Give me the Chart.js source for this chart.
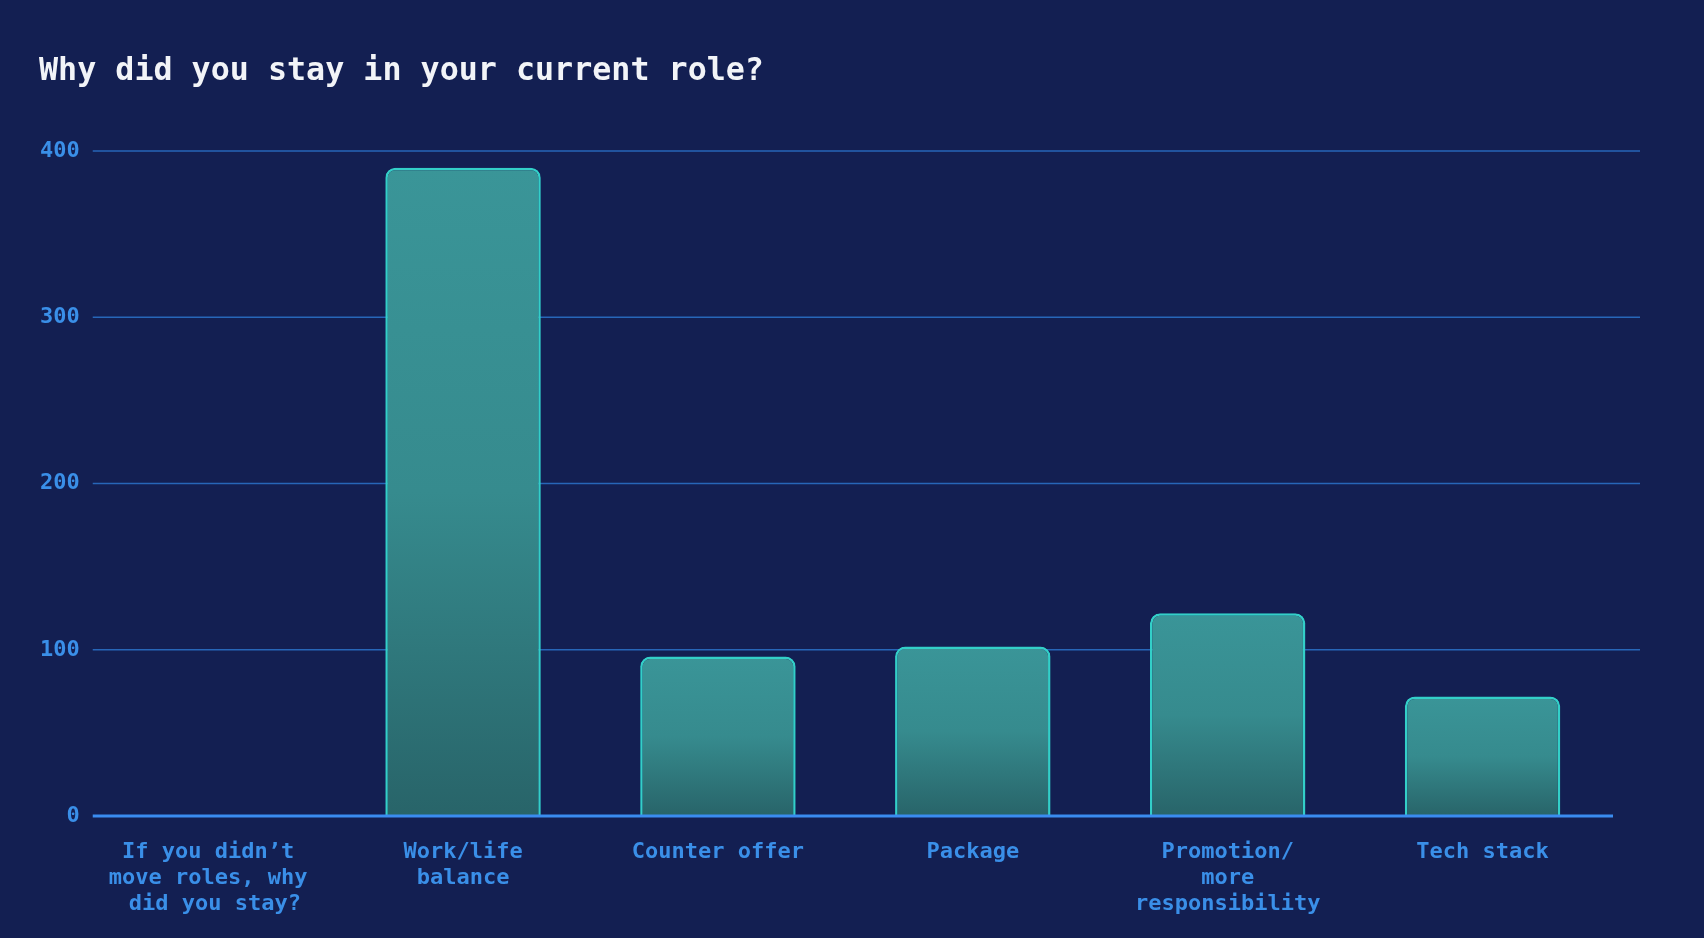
<!DOCTYPE html>
<html lang="en">
<head>
    <meta charset="UTF-8">
    <title>Why did you stay in your current role?</title>
    <script src="https://cdn.jsdelivr.net/npm/chart.js"></script>
    <style>
        html, body {
            margin: 0;
            padding: 0;
            background: #131f52;
        }
        #wrap {
            width: 1704px;
            height: 938px;
        }
    </style>
</head>
<body>
    <div id="wrap">
        <canvas id="stayChart"></canvas>
    </div>

    <script>
        // data
        const categories = [
            ['If you didn\u2019t', 'move roles, why', ' did you stay?'],
            ['Work/life', 'balance'],
            'Counter offer',
            'Package',
            ['Promotion/', 'more', 'responsibility'],
            'Tech stack'
        ];
        const responses = [0, 390, 96, 102, 122, 72];
        const yTicks = [0, 100, 200, 300, 400];

        const monoFont = "'DejaVu Sans Mono', 'Liberation Mono', monospace";
        const labelBlue = '#3a8fe8';

        // grid lines run a little wider than the bars, axis line drawn on top
        const gridPlugin = {
            id: 'stayGrid',
            beforeDatasetsDraw(chart) {
                const { ctx, chartArea, scales } = chart;
                ctx.save();
                ctx.strokeStyle = '#2766b8';
                ctx.lineWidth = 1.5;
                yTicks.forEach(function (v) {
                    if (v === 0) return;
                    const y = scales.y.getPixelForValue(v);
                    ctx.beginPath();
                    ctx.moveTo(chartArea.left + 12, y);
                    ctx.lineTo(chartArea.right + 30, y);
                    ctx.stroke();
                });
                ctx.restore();
            },
            afterDatasetsDraw(chart) {
                const { ctx, chartArea, scales } = chart;
                const y = scales.y.getPixelForValue(0);
                ctx.save();
                ctx.strokeStyle = '#3a8cf0';
                ctx.lineWidth = 3;
                ctx.beginPath();
                ctx.moveTo(chartArea.left + 12, y);
                ctx.lineTo(chartArea.right + 3, y);
                ctx.stroke();
                ctx.restore();
            }
        };

        function barFill(context) {
            const chart = context.chart;
            if (!chart.chartArea) return '#378c90';
            const yScale = chart.scales.y;
            const val = context.raw || 0;
            const top = yScale.getPixelForValue(val);
            const bottom = yScale.getPixelForValue(0);
            if (bottom - top < 1) return '#378c90';
            const g = chart.ctx.createLinearGradient(0, top, 0, bottom);
            g.addColorStop(0, '#3a9598');
            g.addColorStop(0.5, '#368b8e');
            g.addColorStop(1, '#286469');
            return g;
        }

        const ctx = document.getElementById('stayChart').getContext('2d');
        const stayChart = new Chart(ctx, {
            type: 'bar',
            data: {
                labels: categories,
                datasets: [{
                    label: 'Responses',
                    data: responses,
                    backgroundColor: barFill,
                    borderColor: '#33cfc8',
                    borderWidth: 2.5,
                    borderRadius: 10,
                    borderSkipped: 'bottom',
                    barPercentage: 0.61,
                    categoryPercentage: 1
                }]
            },
            options: {
                responsive: true,
                maintainAspectRatio: false,
                animation: false,
                layout: {
                    padding: { left: 39, right: 94, top: 0, bottom: -2 }
                },
                plugins: {
                    legend: { display: false },
                    tooltip: { enabled: false },
                    title: {
                        display: true,
                        text: 'Why did you stay in your current role?',
                        align: 'start',
                        color: '#f2f4f8',
                        font: { family: monoFont, size: 31.7, weight: 'bold' },
                        padding: { top: 53, bottom: 60 }
                    }
                },
                scales: {
                    x: {
                        grid: { display: false, drawTicks: false },
                        border: { display: false },
                        ticks: {
                            color: labelBlue,
                            padding: 23,
                            maxRotation: 0,
                            autoSkip: false,
                            font: { family: monoFont, size: 22, weight: 'bold', lineHeight: 1.18 }
                        }
                    },
                    y: {
                        min: 0,
                        max: 400,
                        afterBuildTicks: function (axis) {
                            axis.ticks = yTicks.map(function (v) { return { value: v }; });
                        },
                        grid: { display: false, drawTicks: false },
                        border: { display: false },
                        ticks: {
                            color: labelBlue,
                            padding: 1,
                            font: { family: monoFont, size: 22, weight: 'bold' }
                        }
                    }
                }
            },
            plugins: [gridPlugin]
        });
    </script>
</body>
</html>
